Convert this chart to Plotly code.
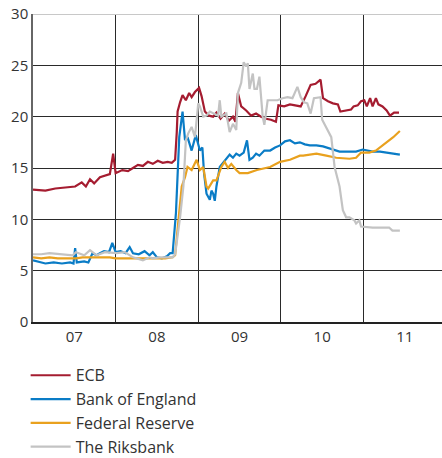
import plotly.graph_objects as go

# ---- data (decimal years, values) ----
ecb_t = [2007.00, 2007.15, 2007.27, 2007.39, 2007.51, 2007.59, 2007.64, 2007.69, 2007.74, 2007.81,
         2007.88, 2007.93, 2007.97, 2008.00, 2008.08, 2008.15, 2008.21, 2008.27, 2008.33, 2008.39,
         2008.45, 2008.51, 2008.57, 2008.63, 2008.68, 2008.72, 2008.74, 2008.75, 2008.78, 2008.81,
         2008.85, 2008.89, 2008.92, 2008.96, 2009.01, 2009.04, 2009.08, 2009.13, 2009.18, 2009.22,
         2009.27, 2009.32, 2009.37, 2009.42, 2009.45, 2009.48, 2009.52, 2009.58, 2009.64, 2009.70,
         2009.76, 2009.82, 2009.88, 2009.94, 2009.97, 2010.04, 2010.11, 2010.18, 2010.24, 2010.30,
         2010.36, 2010.42, 2010.48, 2010.51, 2010.57, 2010.63, 2010.69, 2010.72, 2010.78, 2010.85,
         2010.88, 2010.93, 2010.97, 2011.01, 2011.04, 2011.08, 2011.11, 2011.15, 2011.18, 2011.23,
         2011.28, 2011.32, 2011.37, 2011.43]
ecb_v = [12.9, 12.8, 13.0, 13.1, 13.2, 13.6, 13.2, 13.9, 13.5, 14.1,
         14.3, 14.4, 16.4, 14.5, 14.8, 14.7, 15.0, 15.3, 15.2, 15.6,
         15.4, 15.7, 15.5, 15.6, 15.5, 15.8, 18.5, 20.5, 21.4, 22.1,
         21.6, 22.3, 21.9, 22.4, 22.8, 22.0, 20.5, 20.1, 20.0, 20.4,
         19.8, 20.3, 19.6, 20.0, 19.5, 22.3, 21.0, 20.6, 20.1, 20.3,
         20.0, 19.8, 19.7, 19.5, 21.1, 21.0, 21.2, 21.1, 21.0, 22.0,
         23.1, 23.2, 23.6, 21.8, 21.5, 21.3, 21.2, 20.5, 20.6, 20.7,
         21.0, 21.1, 21.5, 21.6, 21.0, 21.8, 21.0, 21.8, 21.2, 21.0,
         20.6, 20.1, 20.4, 20.4]

boe_t = [2007.00, 2007.08, 2007.15, 2007.25, 2007.35, 2007.45, 2007.49, 2007.51, 2007.53, 2007.62,
         2007.67, 2007.72, 2007.77, 2007.81, 2007.86, 2007.92, 2007.96, 2008.00, 2008.06, 2008.12,
         2008.17, 2008.21, 2008.28, 2008.35, 2008.41, 2008.45, 2008.50, 2008.56, 2008.62, 2008.66,
         2008.69, 2008.73, 2008.77, 2008.81, 2008.84, 2008.87, 2008.92, 2008.97, 2009.02, 2009.05,
         2009.07, 2009.10, 2009.14, 2009.16, 2009.18, 2009.20, 2009.22, 2009.26, 2009.30, 2009.34,
         2009.38, 2009.42, 2009.46, 2009.50, 2009.55, 2009.59, 2009.62, 2009.66, 2009.70, 2009.74,
         2009.80, 2009.87, 2009.93, 2009.99, 2010.05, 2010.11, 2010.17, 2010.23, 2010.29, 2010.35,
         2010.43, 2010.51, 2010.60, 2010.71, 2010.80, 2010.91, 2010.99, 2011.05, 2011.11, 2011.20,
         2011.28, 2011.36, 2011.44]
boe_v = [6.0, 5.8, 5.7, 5.8, 5.7, 5.8, 5.7, 7.2, 5.8, 5.9,
         5.8, 6.7, 6.5, 6.7, 6.9, 6.8, 7.7, 6.8, 6.9, 6.7,
         7.3, 6.7, 6.6, 6.9, 6.5, 6.8, 6.3, 6.2, 6.4, 6.7,
         6.7, 10.6, 18.0, 20.5, 17.7, 18.0, 16.7, 18.2, 16.7, 17.0,
         14.5, 12.5, 11.9, 12.8, 12.5, 11.8, 13.2, 15.1, 15.5, 15.8,
         16.3, 16.0, 16.4, 16.2, 16.5, 17.7, 15.8, 16.0, 16.4, 16.2,
         16.7, 16.7, 17.0, 17.2, 17.6, 17.7, 17.4, 17.5, 17.3, 17.2,
         17.2, 17.1, 16.9, 16.6, 16.6, 16.6, 16.8, 16.7, 16.6, 16.6,
         16.5, 16.4, 16.3]

fed_t = [2007.00, 2007.10, 2007.20, 2007.30, 2007.40, 2007.52, 2007.60, 2007.72, 2007.85, 2007.93,
         2008.00, 2008.10, 2008.20, 2008.30, 2008.40, 2008.50, 2008.60, 2008.69, 2008.72, 2008.76,
         2008.80, 2008.84, 2008.87, 2008.92, 2008.98, 2009.02, 2009.06, 2009.10, 2009.12, 2009.18,
         2009.22, 2009.28, 2009.32, 2009.36, 2009.40, 2009.46, 2009.50, 2009.60, 2009.71, 2009.87,
         2009.99, 2010.11, 2010.23, 2010.27, 2010.43, 2010.55, 2010.67, 2010.83, 2010.91, 2010.97,
         2011.07, 2011.15, 2011.28, 2011.36, 2011.44]
fed_v = [6.3, 6.2, 6.3, 6.2, 6.2, 6.2, 6.3, 6.3, 6.3, 6.3,
         6.2, 6.2, 6.2, 6.2, 6.2, 6.2, 6.2, 6.3, 6.5, 9.9,
         13.2, 14.1, 15.1, 14.8, 15.8, 14.8, 15.1, 13.2, 13.0, 13.8,
         13.8, 15.1, 15.6, 15.0, 15.4, 14.8, 14.5, 14.5, 14.8, 15.1,
         15.6, 15.8, 16.2, 16.2, 16.4, 16.2, 16.0, 15.9, 16.0, 16.5,
         16.5, 16.7, 17.5, 18.0, 18.6]

rik_t = [2007.00, 2007.10, 2007.20, 2007.36, 2007.48, 2007.52, 2007.62, 2007.69, 2007.77, 2007.87,
         2008.01, 2008.11, 2008.21, 2008.33, 2008.41, 2008.45, 2008.53, 2008.61, 2008.69, 2008.72,
         2008.78, 2008.82, 2008.84, 2008.85, 2008.88, 2008.92, 2008.96, 2009.00, 2009.02, 2009.06,
         2009.10, 2009.14, 2009.24, 2009.26, 2009.28, 2009.34, 2009.38, 2009.42, 2009.46, 2009.48,
         2009.52, 2009.55, 2009.58, 2009.60, 2009.62, 2009.66, 2009.68, 2009.71, 2009.74, 2009.76,
         2009.78, 2009.80, 2009.84, 2009.88, 2009.96, 2010.02, 2010.08, 2010.14, 2010.20, 2010.24,
         2010.28, 2010.32, 2010.36, 2010.40, 2010.48, 2010.50, 2010.56, 2010.61, 2010.65, 2010.71,
         2010.75, 2010.79, 2010.83, 2010.89, 2010.91, 2010.95, 2010.97, 2011.11, 2011.31, 2011.35,
         2011.44]
rik_v = [6.6, 6.6, 6.7, 6.6, 6.5, 6.8, 6.5, 7.0, 6.5, 6.8,
         6.7, 6.8, 6.3, 6.0, 6.3, 6.2, 6.3, 6.3, 6.3, 6.6,
         10.2, 13.2, 16.4, 17.7, 18.4, 19.0, 18.0, 21.3, 21.0, 20.0,
         20.1, 20.5, 20.1, 21.6, 20.0, 20.3, 18.5, 19.3, 18.7, 22.3,
         23.3, 25.3, 24.9, 25.2, 22.7, 24.2, 22.7, 22.7, 23.9, 21.9,
         20.0, 19.2, 21.6, 21.6, 21.6, 21.8, 21.9, 21.8, 22.9, 21.9,
         21.4, 21.3, 20.3, 21.8, 21.9, 19.7, 18.8, 18.0, 15.1, 13.2,
         10.9, 10.2, 10.2, 9.9, 9.6, 9.9, 9.3, 9.2, 9.2, 8.9,
         8.9]

year_ticks = [2007.5, 2008.5, 2009.5, 2010.5, 2011.5]
year_labels = ["07", "08", "09", "10", "11"]
year_bounds = [2008, 2009, 2010, 2011]
y_ticks = [0, 5, 10, 15, 20, 25, 30]

series = [
    ("ECB", ecb_t, ecb_v, "#A51C30"),
    ("Bank of England", boe_t, boe_v, "#0A7CC6"),
    ("Federal Reserve", fed_t, fed_v, "#E9A11E"),
    ("The Riksbank", rik_t, rik_v, "#C3C3C3"),
]

fig = go.Figure()
for name, t, v, c in series:
    fig.add_trace(go.Scatter(x=t, y=v, mode="lines", name=name, legendgroup=name,
                             line=dict(color=c, width=2.2)))

FONT = "Open Sans"
fig.update_layout(
    width=442, height=458,
    margin=dict(l=33, r=0, t=14, b=136, autoexpand=False),
    plot_bgcolor="white", paper_bgcolor="white",
    font=dict(family=FONT, size=15, color="#333333"),
    showlegend=True,
    legend=dict(x=-0.018, y=-0.118, xanchor="left", yanchor="top",
                font=dict(family=FONT, size=16, color="#333333"),
                tracegroupgap=0, itemwidth=40, bgcolor="rgba(0,0,0,0)"),
    xaxis=dict(range=[2007, 2011.95], tickvals=year_ticks, ticktext=year_labels,
               showgrid=False, zeroline=False, ticks="", automargin=False,
               showline=True, linecolor="#222222", linewidth=2,
               tickfont=dict(size=15, color="#333333"),
               minor=dict(tickvals=year_bounds, showgrid=True, gridcolor="#2a2a2a",
                          gridwidth=1.2, ticks="")),
    yaxis=dict(range=[0, 30], tickvals=y_ticks, showgrid=True, gridcolor="#2a2a2a",
               gridwidth=1.2, zeroline=False, ticks="", showline=True, automargin=False,
               linecolor="#666666", linewidth=1.5,
               tickfont=dict(size=15, color="#333333")),
)
fig.add_shape(type="line", xref="paper", yref="y", x0=0, x1=1, y0=30, y1=30,
              line=dict(color="#c8c8c8", width=2), layer="above")

# remove the default 8px page margin so the figure fills the window exactly
fig.write_html("out.html", config={"displayModeBar": False},
               post_script="document.body.style.margin='0';")
